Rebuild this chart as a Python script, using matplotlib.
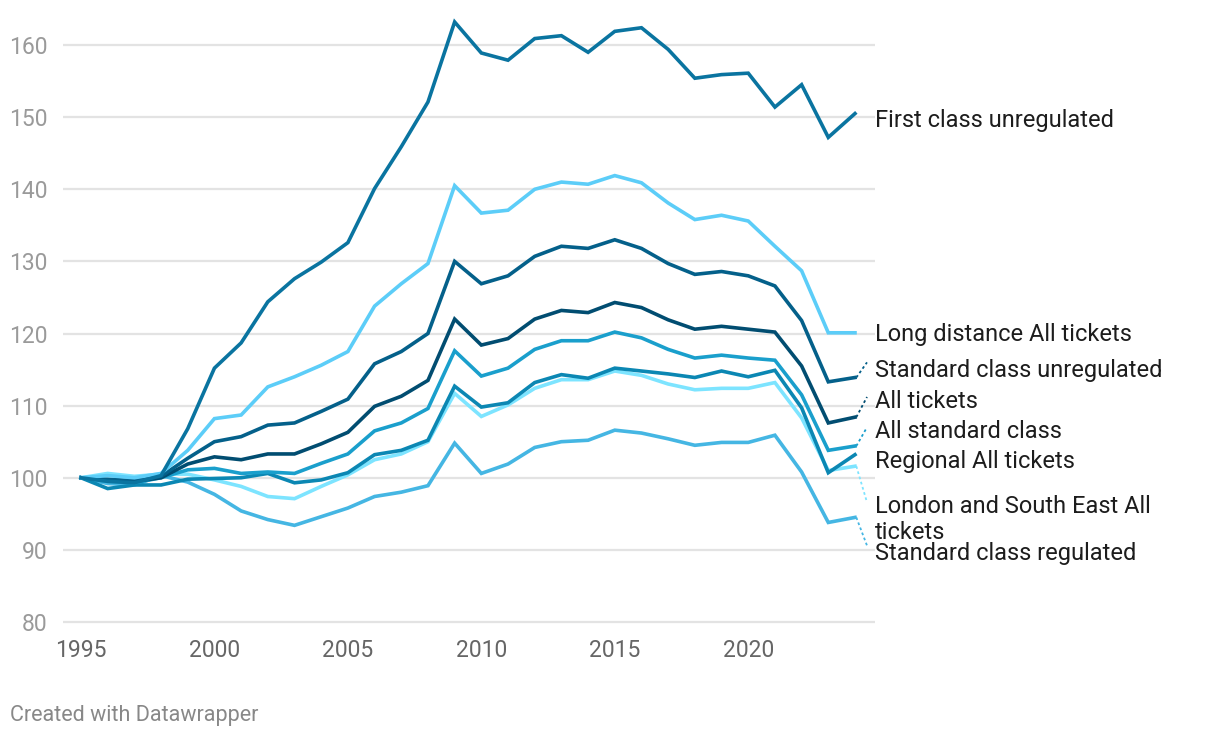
import matplotlib
matplotlib.use("Agg")
import matplotlib.pyplot as plt

plt.rcParams['font.family'] = ['Roboto', 'DejaVu Sans']

years = list(range(1995, 2025))

first_class_unregulated = [100, 99.5, 99.3, 100.3, 106.8, 115.2, 118.7, 124.4, 127.6, 129.9,
                           132.6, 140.1, 145.9, 152.1, 163.2, 158.9, 157.9, 160.9, 161.3, 159.0,
                           161.9, 162.4, 159.4, 155.4, 155.9, 156.1, 151.4, 154.5, 147.2, 150.5]
long_distance = [100, 100.3, 100.0, 100.6, 103.8, 108.2, 108.7, 112.6, 114.0, 115.6,
                 117.5, 123.8, 126.9, 129.7, 140.5, 136.7, 137.1, 140.0, 141.0, 140.7,
                 141.9, 140.9, 138.1, 135.8, 136.4, 135.6, 132.1, 128.7, 120.1, 120.1]
standard_unregulated = [100, 99.8, 99.6, 100.2, 102.7, 105.0, 105.7, 107.3, 107.6, 109.2,
                        110.9, 115.8, 117.5, 120.0, 130.0, 126.9, 128.0, 130.7, 132.1, 131.8,
                        133.0, 131.8, 129.7, 128.2, 128.6, 128.0, 126.6, 121.8, 113.3, 113.9]
all_tickets = [100, 99.7, 99.5, 100.0, 101.9, 102.9, 102.5, 103.3, 103.3, 104.7,
               106.3, 109.9, 111.3, 113.5, 122.0, 118.4, 119.3, 122.0, 123.2, 122.9,
               124.3, 123.6, 121.9, 120.6, 121.0, 120.6, 120.2, 115.5, 107.6, 108.4]
all_standard = [100, 99.5, 99.3, 100.0, 101.1, 101.3, 100.6, 100.8, 100.6, 102.0,
                103.3, 106.5, 107.6, 109.6, 117.6, 114.1, 115.2, 117.8, 119.0, 119.0,
                120.2, 119.4, 117.8, 116.6, 117.0, 116.6, 116.3, 111.5, 103.8, 104.4]
regional = [100, 98.5, 99.0, 99.0, 99.8, 99.9, 100.0, 100.6, 99.3, 99.7,
            100.7, 103.2, 103.8, 105.2, 112.7, 109.8, 110.4, 113.2, 114.3, 113.8,
            115.2, 114.8, 114.4, 113.9, 114.8, 114.0, 114.9, 109.7, 100.7, 103.2]
london_se = [100, 100.6, 100.2, 100.5, 100.5, 99.7, 98.8, 97.4, 97.1, 98.8,
             100.4, 102.5, 103.3, 105.0, 111.7, 108.5, 110.1, 112.4, 113.6, 113.6,
             114.8, 114.2, 113.0, 112.2, 112.4, 112.4, 113.2, 108.3, 101.0, 101.6]
standard_regulated = [100, 99.2, 99.0, 100.3, 99.4, 97.7, 95.4, 94.2, 93.4, 94.6,
                      95.8, 97.4, 98.0, 98.9, 104.8, 100.6, 101.9, 104.2, 105.0, 105.2,
                      106.6, 106.2, 105.4, 104.5, 104.9, 104.9, 105.9, 100.8, 93.8, 94.5]

series = [
    ("First class unregulated", first_class_unregulated, "#0a74a0"),
    ("Long distance All tickets", long_distance, "#5ccdf8"),
    ("Standard class unregulated", standard_unregulated, "#04608a"),
    ("All tickets", all_tickets, "#014d71"),
    ("All standard class", all_standard, "#1a9fcc"),
    ("Regional All tickets", regional, "#0b87b3"),
    ("London and South East All\ntickets", london_se, "#7de4ff"),
    ("Standard class regulated", standard_regulated, "#45b6e3"),
]
# label y positions (data units) and whether a dotted connector is drawn
label_y = [149.6, 119.8, 114.9, 110.55, 106.45, 102.25, 94.2, 89.5]
connector = [False, False, True, True, True, False, True, True]
connector_end = [None, None, 116.0, 111.2, 107.0, None, 96.6, 90.6]

W, H = 1220, 738
fig = plt.figure(figsize=(W / 100, H / 100), dpi=100)
ax = fig.add_axes([63 / W, (H - 629.2) / H, (875 - 63) / W, (629.2 - 12.6) / H])
ax.set_xlim(1994.326, 2024.75)
ax.set_ylim(79, 164.5)

yticks = [80, 90, 100, 110, 120, 130, 140, 150, 160]
for t in yticks:
    ax.axhline(t, color="#e3e3e3", lw=1.6, zorder=0)
ax.set_yticks(yticks)
ax.set_yticklabels([str(t) for t in yticks], color="#9a9a9a", fontsize=16.5)
ax.tick_params(axis="y", length=0, pad=11)

xticks = [1995, 2000, 2005, 2010, 2015, 2020]
ax.set_xticks(xticks)
ax.set_xticklabels([str(t) for t in xticks], color="#666666", fontsize=16.5)
ax.tick_params(axis="x", length=0, pad=7)

for s in ax.spines.values():
    s.set_visible(False)

order = [7, 6, 5, 4, 3, 2, 1, 0]
for i in order:
    name, vals, col = series[i]
    ax.plot(years, vals, color=col, lw=2.6, solid_joinstyle="miter", zorder=3 + (8 - i) * 0.1)

for (name, vals, col), ly, con, ce in zip(series, label_y, connector, connector_end):
    if con:
        ax.plot([years[-1] + 0.05, 2024.45], [vals[-1], ce],
                color=col, lw=1.3, ls=(0, (1.5, 1.5)), clip_on=False)
    ax.text(2024.75, ly, name, fontsize=17, color="#1d1d1d", va="center", ha="left",
            linespacing=1.2, clip_on=False)

fig.text(10 / W, 1 - 715 / H, "Created with Datawrapper", fontsize=15.5, color="#888888",
         va="center", ha="left")

fig.savefig("out.png", dpi=100)
